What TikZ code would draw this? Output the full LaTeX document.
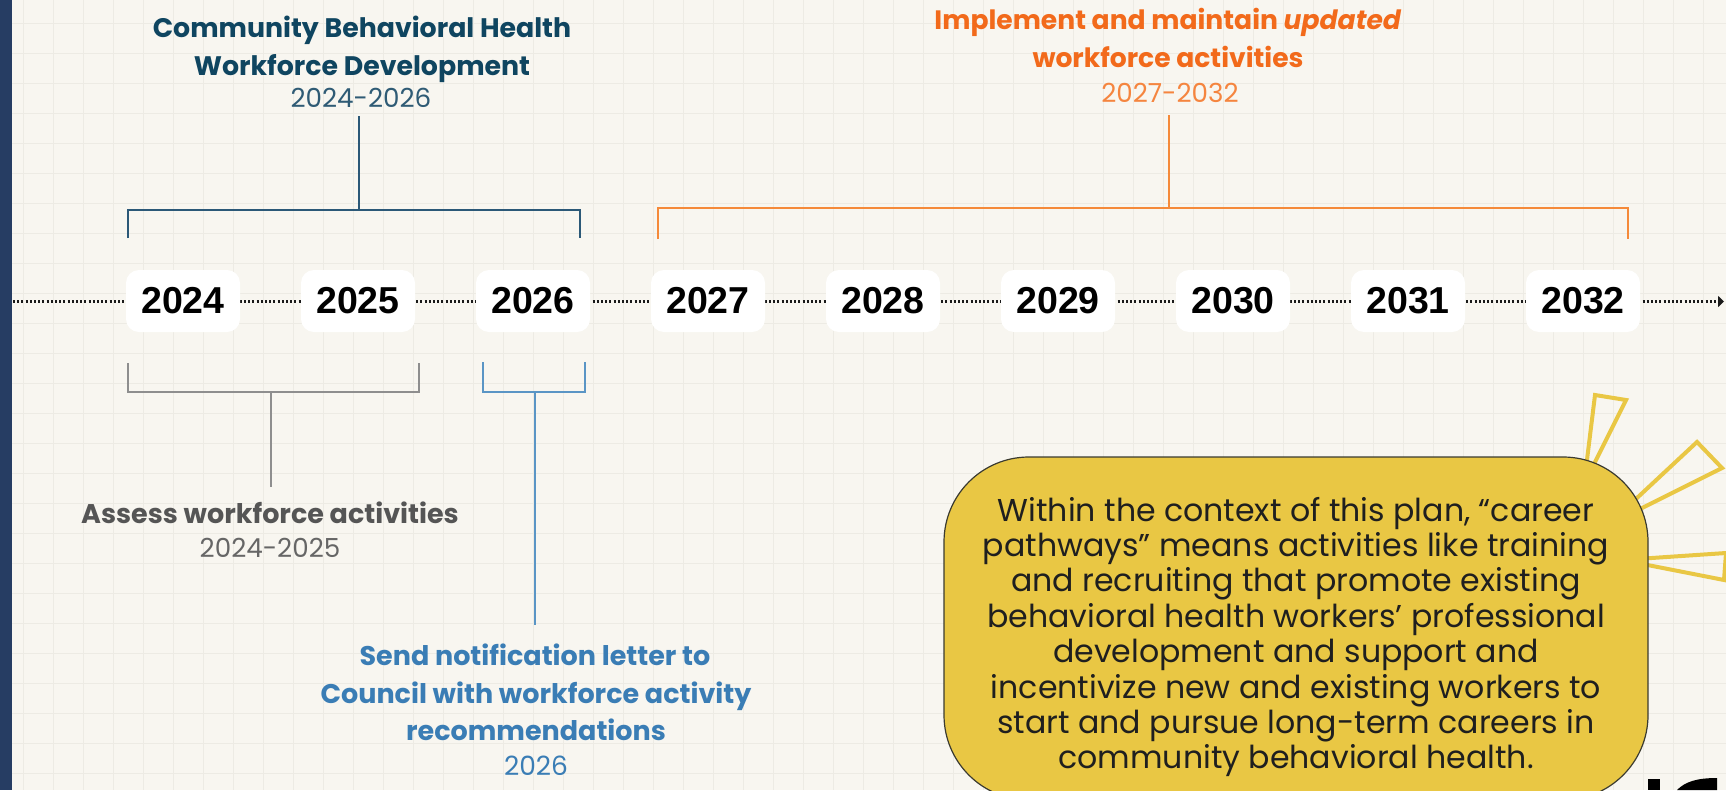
\documentclass[tikz,border=0pt]{standalone}
\usepackage{fontspec}
\setmainfont{Poppins}
\newfontfamily\yearfont{Liberation Sans}
\usetikzlibrary{arrows.meta}
\definecolor{bg}{HTML}{F8F6F0}
\definecolor{gridc}{HTML}{EDEBE4}
\definecolor{navy}{HTML}{263D63}
\definecolor{tealD}{HTML}{0F4560}
\definecolor{tealL}{HTML}{2F5B75}
\definecolor{tealLine}{HTML}{2B5877}
\definecolor{orng}{HTML}{F26A1B}
\definecolor{orngL}{HTML}{F5853F}
\definecolor{orngLine}{HTML}{F58A3A}
\definecolor{gryT}{HTML}{555555}
\definecolor{gryS}{HTML}{666666}
\definecolor{gryLine}{HTML}{8E8E8E}
\definecolor{bluT}{HTML}{3A7DB5}
\definecolor{bluLine}{HTML}{5A95C5}
\definecolor{ylw}{HTML}{E9C744}
\definecolor{ylwEdge}{HTML}{3B3B30}
\definecolor{dotc}{HTML}{1A1A1A}
\newcommand\setfs[1]{\fontsize{#1}{#1}\selectfont}
\begin{document}
\begin{tikzpicture}[x=1pt,y=-1pt,
  yearbox/.style={fill=white, rounded corners=13pt, minimum width=114pt, minimum height=62pt, inner sep=0pt, font=\yearfont\bfseries\setfs{37.5}},
  hd/.style={anchor=base, inner sep=0pt},
  brk/.style={line width=2pt},
  ray/.style={draw=ylw, line width=4pt, line join=miter},
  ytext/.style={anchor=base, inner sep=0pt, text=black!88, font=\setfs{31.6}}
]
\useasboundingbox (0,0) rectangle (1726,790);
\fill[bg] (0,0) rectangle (1726,790);
\foreach \i in {0,...,57} \draw[gridc, line width=1pt] (23+30*\i,0) -- (23+30*\i,790);
\foreach \j in {0,...,26} \draw[gridc, line width=1pt] (0,23+30*\j) -- (1726,23+30*\j);
\fill[navy] (0,0) rectangle (12,790);

% timeline
\coordinate (tlS) at (13,301.5);
\coordinate (tlE) at (1724,301.5);
\draw[dotc, line width=2.2pt, dash pattern=on 2pt off 2.2pt, -{Triangle[length=6pt,width=11pt]}] (tlS) -- (tlE);

\foreach \yr [count=\k from 0] in {2024,2025,2026,2027,2028,2029,2030,2031,2032}
  \node[yearbox] (y\yr) at (183+175*\k,301) {\yr};

% top-left heading
\node[hd, text=tealD, font=\bfseries\setfs{26.8}] (h1a) at (362,37) {Community Behavioral Health};
\node[hd, text=tealD, font=\bfseries\setfs{26.8}] (h1b) at (362,75) {Workforce Development};
\node[hd, text=tealL, font=\setfs{26.2}] (h1c) at (361,107) {2024-2026};
\coordinate (tbL) at (128,238); \coordinate (tbR) at (580,238);
\coordinate (tbS) at (359,116); \coordinate (tbJ) at (359,210);
\draw[brk, tealLine] (tbL) |- (tbJ) -| (tbR);
\draw[brk, tealLine] (tbJ) -- (tbS);

% orange heading
\node[hd, text=orng, font=\bfseries\setfs{26.6}] (h2a) at (1168,29) {Implement and maintain \textit{updated}};
\node[hd, text=orng, font=\bfseries\setfs{26.6}] (h2b) at (1168,67) {workforce activities};
\node[hd, text=orngL, font=\setfs{26.2}] (h2c) at (1170,102) {2027-2032};
\coordinate (obL) at (658,239); \coordinate (obR) at (1628,239);
\coordinate (obS) at (1169,115); \coordinate (obJ) at (1169,208);
\draw[brk, orngLine] (obL) |- (obJ) -| (obR);
\draw[brk, orngLine] (obJ) -- (obS);

% gray bracket
\coordinate (gbL) at (128,363); \coordinate (gbR) at (419,363);
\coordinate (gbJ) at (271,392); \coordinate (gbS) at (271,487);
\draw[line width=2.5pt, gryLine] (gbL) |- (gbJ) -| (gbR);
\draw[line width=2.5pt, gryLine] (gbJ) -- (gbS);
\node[hd, text=gryT, font=\bfseries\setfs{27}] (g1) at (270,523) {Assess workforce activities};
\node[hd, text=gryS, font=\setfs{26.2}] (g2) at (270,557) {2024-2025};

% light blue bracket
\coordinate (lbL) at (483,362); \coordinate (lbR) at (585,362);
\coordinate (lbJ) at (535,392); \coordinate (lbS) at (535,625);
\draw[brk, bluLine] (lbL) |- (lbJ) -| (lbR);
\draw[brk, bluLine] (lbJ) -- (lbS);
\node[hd, text=bluT, font=\bfseries\setfs{27}] (b1) at (535,665) {Send notification letter to};
\node[hd, text=bluT, font=\bfseries\setfs{27}] (b2) at (536,703) {Council with workforce activity};
\node[hd, text=bluT, font=\bfseries\setfs{27}] (b3) at (536,740) {recommendations};
\node[hd, text=bluT, font=\setfs{26.5}] (b4) at (536,775) {2026};

% sun rays
\draw[ray] (1595,395) -- (1626,400) -- (1584,484) -- cycle;
\draw[ray] (1697,442) -- (1722,468) -- (1608,525) -- cycle;
\draw[ray] (1726,553) -- (1724,580) -- (1622,560) -- cycle;

% yellow box
\draw[fill=ylw, draw=ylwEdge, line width=1.2pt, rounded corners=85pt] (944,457) rectangle (1648,800);
\foreach \ln [count=\k from 0] in {{Within the context of this plan, “career},{pathways” means activities like training},{and recruiting that promote existing},{behavioral health workers’ professional},{development and support and},{incentivize new and existing workers to},{start and pursue long-term careers in},{community behavioral health.}}
  \node[ytext] (yt\k) at (1296,521+35.4*\k) {\ln};

% logo fragment
\fill[black] (1648,779) rectangle (1660,790);
\fill[black] (1677,790) .. controls (1685,782) and (1696,778) .. (1717,778) -- (1717,790) -- cycle;
\end{tikzpicture}
\end{document}
